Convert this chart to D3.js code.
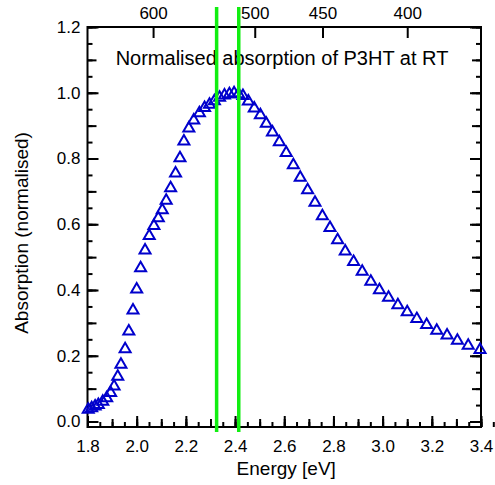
<!DOCTYPE html>
<html>
<head>
<meta charset="utf-8">
<script src="https://cdn.jsdelivr.net/npm/d3@7/dist/d3.min.js"></script>
<style>
body { margin: 0; background: #fff; }
text { font-family: "Liberation Sans", Arial, Helvetica, sans-serif; fill: #000; }
</style>
</head>
<body>
<script>
// (energy in eV, normalised absorption)
var energy = [1.803, 1.817, 1.831, 1.844, 1.862, 1.878, 1.894, 1.908, 1.923, 1.936,
              1.953, 1.968, 1.985, 2.000, 2.016, 2.034, 2.051, 2.070, 2.088, 2.104,
              2.120, 2.138, 2.158, 2.176, 2.192, 2.212, 2.232, 2.255, 2.276, 2.296,
              2.316, 2.337, 2.357, 2.377, 2.396, 2.414, 2.432, 2.454, 2.478, 2.503,
              2.527, 2.552, 2.580, 2.608, 2.637, 2.665, 2.695, 2.725, 2.755, 2.786,
              2.817, 2.848, 2.882, 2.917, 2.952, 2.987, 3.024, 3.062, 3.100, 3.139,
              3.179, 3.220, 3.262, 3.304, 3.348, 3.396];
var absorption = [0.040, 0.045, 0.050, 0.055, 0.065, 0.075, 0.091, 0.111, 0.141, 0.177,
                  0.224, 0.278, 0.342, 0.406, 0.471, 0.525, 0.569, 0.599, 0.623, 0.647,
                  0.676, 0.714, 0.759, 0.805, 0.856, 0.896, 0.920, 0.942, 0.958, 0.968,
                  0.979, 0.989, 0.996, 1.000, 1.003, 1.000, 0.995, 0.978, 0.957, 0.936,
                  0.910, 0.884, 0.854, 0.821, 0.784, 0.746, 0.708, 0.670, 0.629, 0.593,
                  0.556, 0.522, 0.490, 0.460, 0.430, 0.404, 0.381, 0.358, 0.337, 0.316,
                  0.298, 0.281, 0.266, 0.250, 0.235, 0.222];

var energyTicks = [1.8, 2.0, 2.2, 2.4, 2.6, 2.8, 3.0, 3.2, 3.4];
var absTicks = [0.0, 0.2, 0.4, 0.6, 0.8, 1.0, 1.2];
var wavelengthTicks = [600, 500, 450, 400];
var lineEnergies = [2.325, 2.415];

var margin = {top: 27, right: 14, bottom: 58, left: 87.5},
    width = 495 - margin.left - margin.right,
    height = 485 - margin.top - margin.bottom;

var x = d3.scaleLinear().domain([1.8, 3.4]).range([0, width]);
var y = d3.scaleLinear().domain([-0.0167, 1.2]).range([height, 0]);

var svg = d3.select("body").append("svg")
    .attr("width", 495)
    .attr("height", 485);

var canvas = svg.append("g")
    .attr("transform", "translate(" + margin.left + "," + margin.top + ")");

// minor ticks: every 0.05, a longer one every 0.1
var xMinor = d3.range(36).map(function(i){ return 1.8 + i * 0.05; });
var xMid = d3.range(17).map(function(i){ return 1.8 + i * 0.1; });
var yMinor = d3.range(25).map(function(i){ return i * 0.05; });
var yMid = d3.range(13).map(function(i){ return i * 0.1; });

function tickAxis(g, axis) {
    g.call(axis);
    g.select(".domain").remove();
    g.selectAll("line").attr("stroke", "#000").attr("stroke-width", 2);
    g.selectAll("text").attr("font-size", "17px").attr("fill", "#000")
        .style("font-family", "'Liberation Sans', Arial, sans-serif");
}

// bottom
canvas.append("g").attr("transform", "translate(0," + height + ")")
    .call(tickAxis, d3.axisBottom(x).tickValues(xMinor).tickSize(-5).tickFormat(""));
canvas.append("g").attr("transform", "translate(0," + height + ")")
    .call(tickAxis, d3.axisBottom(x).tickValues(xMid).tickSize(-8).tickFormat(""));
canvas.append("g").attr("transform", "translate(0," + height + ")")
    .call(tickAxis, d3.axisBottom(x).tickValues(energyTicks).tickSize(-11).tickPadding(13)
        .tickFormat(d3.format(".1f")));

// left
canvas.append("g")
    .call(tickAxis, d3.axisLeft(y).tickValues(yMinor).tickSize(-5).tickFormat(""));
canvas.append("g")
    .call(tickAxis, d3.axisLeft(y).tickValues(yMid).tickSize(-9).tickFormat(""));
canvas.append("g")
    .call(tickAxis, d3.axisLeft(y).tickValues(absTicks).tickSize(-11).tickPadding(7)
        .tickFormat(d3.format(".1f")));

// right, no labels
canvas.append("g").attr("transform", "translate(" + width + ",0)")
    .call(tickAxis, d3.axisRight(y).tickValues(yMinor).tickSize(-5).tickFormat(""));
canvas.append("g").attr("transform", "translate(" + width + ",0)")
    .call(tickAxis, d3.axisRight(y).tickValues(yMid).tickSize(-9).tickFormat(""));
canvas.append("g").attr("transform", "translate(" + width + ",0)")
    .call(tickAxis, d3.axisRight(y).tickValues(absTicks).tickSize(-11).tickFormat(""));

// top: wavelength in nm, E = 1240 / lambda
canvas.append("g")
    .call(tickAxis, d3.axisTop(x)
        .tickValues(wavelengthTicks.map(function(w){ return 1240 / w; }))
        .tickSize(-11).tickPadding(8)
        .tickFormat(function(e){ return Math.round(1240 / e); }));

// frame
canvas.append("rect")
    .attr("width", width)
    .attr("height", height)
    .attr("fill", "none")
    .attr("stroke", "#000")
    .attr("stroke-width", 2);

// axis titles
canvas.append("text")
    .attr("x", width / 2 + 2)
    .attr("y", height + 48)
    .attr("text-anchor", "middle")
    .attr("font-size", "19px")
    .text("Energy [eV]");

canvas.append("text")
    .attr("transform", "translate(" + (-59.5) + "," + (233 - margin.top) + ") rotate(-90)")
    .attr("text-anchor", "middle")
    .attr("font-size", "19px")
    .text("Absorption (normalised)");

canvas.append("text")
    .attr("x", 282 - margin.left)
    .attr("y", 65 - margin.top)
    .attr("text-anchor", "middle")
    .attr("font-size", "20px")
    .text("Normalised absorption of P3HT at RT");

// data markers: open triangles
var points = energy.map(function(e, i){ return {e: e, a: absorption[i]}; });
canvas.selectAll("path.tri")
    .data(points)
    .enter()
    .append("path")
    .attr("class", "tri")
    .attr("d", "M0,-5L5.5,4.5L-5.5,4.5Z")
    .attr("transform", function(d){ return "translate(" + x(d.e) + "," + y(d.a) + ")"; })
    .attr("fill", "none")
    .attr("stroke", "#0000cc")
    .attr("stroke-width", 2);

// green marker lines
canvas.selectAll("line.mark")
    .data(lineEnergies)
    .enter()
    .append("line")
    .attr("class", "mark")
    .attr("x1", function(d){ return x(d); })
    .attr("x2", function(d){ return x(d); })
    .attr("y1", y(1.261))
    .attr("y2", y(-0.032))
    .attr("stroke", "#11ee11")
    .attr("stroke-width", 3.5);
</script>
</body>
</html>
